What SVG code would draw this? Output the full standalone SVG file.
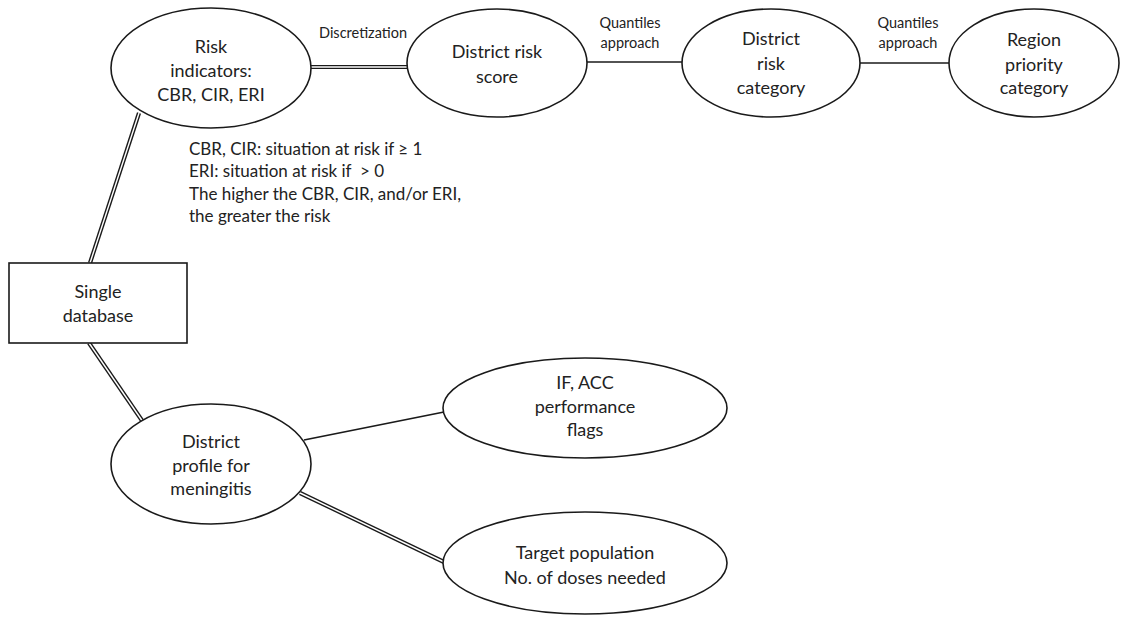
<svg xmlns="http://www.w3.org/2000/svg" width="1121" height="617" viewBox="0 0 1121 617">
<style>
.n{fill:#fff;stroke:#1a1a1a;stroke-width:1.6}
.t{font-family:Lato,"Open Sans",sans-serif;font-size:18px;fill:#222;text-anchor:middle}
.l{font-family:Lato,"Open Sans",sans-serif;font-size:14.5px;fill:#222;text-anchor:middle}
.nt{font-family:Lato,"Open Sans",sans-serif;font-size:17px;fill:#222}
.s{stroke:#1a1a1a;stroke-width:1.6;fill:none}
.d1{stroke:#1a1a1a;stroke-width:4.2;fill:none}
.d2{stroke:#fff;stroke-width:1.4;fill:none}
</style>
<rect width="1121" height="617" fill="#fff"/>
<g id="connectors">
<path class="d1" d="M311 67H410"/><path class="d2" d="M311 67H410"/>
<path class="s" d="M586 62H683"/>
<path class="s" d="M860 63H949"/>
<path class="d1" d="M90 263L139 113"/><path class="d2" d="M90 263L139 113"/>
<path class="d1" d="M89 343L143 422"/><path class="d2" d="M89 343L143 422"/>
<path class="s" d="M304 440L444 412"/>
<path class="d1" d="M300 493L444 562"/><path class="d2" d="M300 493L444 562"/>
<text class="l" x="363" y="38">Discretization</text>
<text class="l" x="630" y="28">Quantiles</text>
<text class="l" x="630" y="48">approach</text>
<text class="l" x="908" y="28">Quantiles</text>
<text class="l" x="908" y="48">approach</text>
</g>
<g id="risk-indicators">
<ellipse class="n" cx="211" cy="68" rx="100" ry="60"/>
<text class="t" x="211" y="53">Risk</text>
<text class="t" x="211" y="77">indicators:</text>
<text class="t" x="211" y="101">CBR, CIR, ERI</text>
</g>
<g id="district-risk-score">
<ellipse class="n" cx="497" cy="63" rx="90" ry="54"/>
<text class="t" x="497" y="58">District risk</text>
<text class="t" x="497" y="83">score</text>
</g>
<g id="district-risk-category">
<ellipse class="n" cx="771" cy="63" rx="89" ry="54"/>
<text class="t" x="771" y="45">District</text>
<text class="t" x="771" y="70">risk</text>
<text class="t" x="771" y="94">category</text>
</g>
<g id="region-priority-category">
<ellipse class="n" cx="1034" cy="63" rx="85" ry="54"/>
<text class="t" x="1034" y="46">Region</text>
<text class="t" x="1034" y="71">priority</text>
<text class="t" x="1034" y="94">category</text>
</g>
<g id="notes">
<text class="nt" x="189" y="155">CBR, CIR: situation at risk if ≥ 1</text>
<text class="nt" x="189" y="177">ERI: situation at risk if &#160;&gt; 0</text>
<text class="nt" x="189" y="200">The higher the CBR, CIR, and/or ERI,</text>
<text class="nt" x="189" y="222">the greater the risk</text>
</g>
<g id="single-database">
<rect class="n" x="9" y="263" width="178" height="80"/>
<text class="t" x="98" y="298">Single</text>
<text class="t" x="98" y="322">database</text>
</g>
<g id="district-profile">
<ellipse class="n" cx="211" cy="464" rx="100" ry="60"/>
<text class="t" x="211" y="448">District</text>
<text class="t" x="211" y="472">profile for</text>
<text class="t" x="211" y="495">meningitis</text>
</g>
<g id="performance-flags">
<ellipse class="n" cx="585" cy="408" rx="142" ry="50"/>
<text class="t" x="585" y="389">IF, ACC</text>
<text class="t" x="585" y="413">performance</text>
<text class="t" x="585" y="436">flags</text>
</g>
<g id="target-population">
<ellipse class="n" cx="585" cy="563" rx="142" ry="51"/>
<text class="t" x="585" y="559">Target population</text>
<text class="t" x="585" y="584">No. of doses needed</text>
</g>
</svg>
